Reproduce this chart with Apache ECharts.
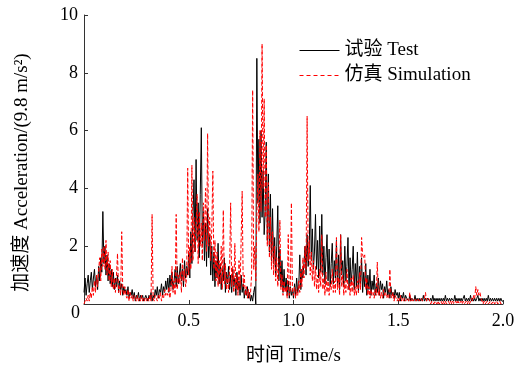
<!DOCTYPE html>
<html>
<head>
<meta charset="utf-8">
<script src="https://cdn.jsdelivr.net/npm/echarts@6/dist/echarts.min.js"></script>
<style>
  html, body { margin: 0; padding: 0; background: #fff; }
  #chart { width: 519px; height: 371px; }
</style>
</head>
<body>
<div id="chart"></div>
<script>
// Sampling step of both acceleration records (s)
const timeStep = 0.005;

// Measured acceleration, 9.8 m/s^2 units, one value every 5 ms from 0 to 2.0 s
const testAccel = [
  0.4,0.9,0.3,0.7,1.0,0.4,0.8,1.1,0.5,0.9,1.2,0.6,1.0,0.5,1.3,0.8,1.6,1.1,3.2,1.4,
  2.0,1.0,1.7,0.8,1.4,0.7,1.2,0.6,1.1,0.5,0.9,0.6,1.0,0.4,0.8,0.5,0.7,0.3,0.6,0.4,
  0.5,0.3,0.6,0.2,0.4,0.3,0.5,0.2,0.4,0.1,0.3,0.2,0.4,0.1,0.3,0.2,0.3,0.1,0.2,0.3,
  0.2,0.1,0.3,0.2,0.4,0.1,0.3,0.2,0.5,0.3,0.6,0.2,0.5,0.4,0.7,0.3,0.6,0.4,0.8,0.5,
  0.9,0.4,1.0,0.6,1.1,0.5,0.8,1.2,0.6,1.3,0.7,1.0,1.4,0.8,1.2,0.6,1.5,0.9,1.3,1.0,
  1.8,0.9,2.5,1.4,3.0,4.3,1.8,5.0,2.2,3.5,1.6,3.8,6.1,2.0,3.2,1.5,2.8,1.3,3.3,1.6,
  2.4,1.0,2.0,0.8,1.8,0.6,1.5,0.9,2.1,0.7,1.4,0.5,1.2,0.8,1.6,0.4,1.1,0.7,1.3,0.5,
  1.0,0.4,1.2,0.6,0.9,0.3,1.1,0.5,0.8,0.3,1.0,0.4,0.7,0.2,0.5,0.3,0.6,0.2,0.4,0.1,
  0.3,0.1,0.4,0.6,0.0,8.5,3.5,5.7,2.8,6.0,3.0,4.6,2.4,3.2,5.6,2.2,4.5,1.8,3.8,1.5,
  3.3,1.4,2.3,1.0,2.0,3.4,0.8,1.9,0.6,1.5,0.4,1.2,0.5,0.9,0.3,0.8,0.2,0.6,0.3,0.5,
  0.2,0.7,0.3,0.9,0.4,0.6,1.7,0.5,1.2,0.9,1.4,2.0,1.0,2.4,1.3,1.8,4.1,1.5,2.6,1.2,
  1.8,3.1,1.2,2.2,0.9,2.7,1.1,3.1,1.0,2.0,0.7,1.6,2.4,0.8,1.9,0.6,1.4,2.1,0.7,1.5,
  0.9,2.2,0.6,1.7,0.5,2.4,1.0,1.5,0.6,2.0,0.8,1.3,2.3,0.5,1.6,0.7,1.2,2.0,0.5,1.4,
  0.6,1.8,0.4,1.3,0.7,1.6,0.4,1.1,0.6,1.4,0.3,1.0,0.5,1.2,0.3,0.8,0.5,1.0,0.3,0.7,
  0.4,0.9,0.3,0.8,0.5,0.7,0.2,0.6,0.4,0.8,0.3,0.5,0.2,0.6,0.3,0.4,0.2,0.5,0.3,0.4,
  0.2,0.4,0.1,0.3,0.2,0.4,0.1,0.3,0.2,0.2,0.1,0.3,0.1,0.2,0.2,0.1,0.3,0.1,0.2,0.1,
  0.2,0.1,0.2,0.1,0.3,0.1,0.2,0.1,0.2,0.2,0.1,0.2,0.1,0.3,0.1,0.2,0.1,0.2,0.1,0.2,
  0.1,0.2,0.1,0.2,0.1,0.3,0.1,0.2,0.1,0.2,0.1,0.2,0.2,0.1,0.3,0.1,0.2,0.1,0.2,0.1,
  0.2,0.1,0.2,0.3,0.1,0.2,0.1,0.2,0.1,0.3,0.1,0.2,0.1,0.2,0.1,0.2,0.3,0.1,0.2,0.1,
  0.2,0.1,0.2,0.1,0.2,0.1,0.3,0.1,0.2,0.1,0.2,0.1,0.2,0.1,0.2,0.1,0.2,0.1,0.2,0.1,
  0.1
];

// Simulated acceleration on the same time base
const simAccel = [
  0.0,0.1,0.2,0.1,0.3,0.1,0.4,0.2,0.6,0.3,0.8,0.4,1.0,0.6,1.2,1.6,0.8,1.9,1.3,2.0,
  1.2,2.2,1.0,1.8,0.8,1.5,0.6,1.2,0.5,0.9,0.4,1.0,1.75,0.4,0.6,0.3,2.5,0.5,0.3,0.6,
  0.3,0.2,0.5,0.1,0.4,0.2,0.3,0.1,0.3,0.2,0.1,0.3,0.1,0.2,0.1,0.3,0.1,0.2,0.1,0.2,
  0.1,0.2,0.1,0.3,0.1,3.1,0.2,0.1,0.3,0.2,0.1,0.3,0.2,0.4,0.1,0.3,0.2,0.5,0.3,0.4,
  0.3,0.6,0.2,0.5,1.3,0.4,0.8,0.3,3.1,0.5,1.0,0.7,1.1,0.4,1.6,0.8,1.2,0.6,0.9,4.7,
  1.0,2.0,1.2,4.8,1.5,3.0,1.8,2.6,3.8,1.4,3.2,2.0,2.8,1.5,3.5,2.2,4.0,1.8,5.9,2.0,
  3.0,1.5,2.6,4.6,1.2,2.2,0.8,1.8,0.6,1.5,0.7,2.0,0.5,3.25,0.7,1.4,0.5,1.0,0.4,1.2,
  3.5,0.6,1.3,0.4,2.1,0.5,1.0,0.3,1.5,0.5,2.2,3.9,0.6,1.0,0.3,0.6,0.2,0.5,0.2,0.4,
  1.0,7.4,1.2,2.0,0.8,3.0,4.5,2.5,6.0,3.2,9.0,4.0,7.1,3.0,5.5,2.0,4.2,1.6,3.0,1.2,
  2.5,1.0,2.0,0.8,1.6,0.6,1.3,2.9,0.5,1.0,0.3,0.8,0.4,0.6,0.2,2.4,0.3,0.5,3.5,0.4,
  0.3,0.6,0.2,0.5,0.3,0.8,0.4,1.2,0.6,1.6,0.9,2.0,1.2,6.5,1.5,2.2,1.0,1.8,0.8,1.5,
  0.6,1.3,0.5,1.0,0.4,1.2,0.6,2.4,0.5,0.9,0.3,1.1,0.4,0.8,0.3,0.7,0.5,1.2,0.4,0.8,
  0.4,2.3,0.5,0.9,0.3,2.4,0.6,1.0,0.3,0.8,0.4,1.2,0.5,0.7,0.3,0.9,0.4,1.0,0.3,0.6,
  0.3,0.8,0.4,1.1,0.5,2.3,1.7,1.6,1.7,0.5,0.9,0.3,0.6,0.2,0.5,0.3,0.4,0.2,0.5,0.3,
  1.45,0.3,0.5,0.2,0.4,0.2,0.5,0.3,0.4,0.2,0.3,0.2,1.2,0.3,0.2,0.4,0.1,0.3,0.2,0.1,
  0.2,0.1,0.3,0.1,0.2,0.1,0.2,0.1,0.1,0.2,0.1,0.4,0.1,0.2,0.1,0.1,0.2,0.1,0.1,0.2,
  0.1,0.1,0.2,0.1,0.1,0.2,0.4,0.1,0.1,0.2,0.1,0.0,0.1,0.1,0.0,0.1,0.1,0.0,0.1,0.0,
  0.0,0.1,0.0,0.1,0.0,0.1,0.0,0.0,0.1,0.0,0.1,0.0,0.1,0.0,0.0,0.1,0.0,0.1,0.0,0.0,
  0.1,0.0,0.1,0.0,0.0,0.1,0.0,0.1,0.0,0.1,0.2,0.1,0.3,0.2,0.6,0.3,0.5,0.3,0.4,0.2,
  0.1,0.0,0.1,0.0,0.0,0.1,0.0,0.0,0.1,0.0,0.0,0.1,0.0,0.0,0.1,0.0,0.0,0.1,0.0,0.0,
  0.0
];

// Axis tick labels
const xTickLabels = ['0', '0.5', '1.0', '1.5', '2.0'];
const yTickLabels = ['0', '2', '4', '6', '8', '10'];

const seriesNames = ['试验 Test', '仿真 Simulation'];
const seriesColors = ['#000000', '#ff0000'];

const FONT = '"Liberation Serif", "Times New Roman", "Noto Sans CJK SC", serif';

function toPairs(values) {
  return values.map((v, i) => [+(i * timeStep).toFixed(3), v]);
}

const chart = echarts.init(document.getElementById('chart'), null, { renderer: 'canvas' });

const axisCommon = {
  axisLine: { show: true, lineStyle: { color: '#333', width: 1 } },
  axisTick: { show: true, inside: true, length: 4, lineStyle: { color: '#333' } },
  splitLine: { show: false },
  axisLabel: { color: '#000', fontFamily: FONT, fontSize: 18 },
  nameTextStyle: { color: '#000', fontFamily: FONT, fontSize: 19 }
};

chart.setOption({
  animation: false,
  backgroundColor: '#fff',
  color: seriesColors,
  grid: { left: 84, right: 16, top: 15, bottom: 67, containLabel: false },
  legend: {
    orient: 'vertical',
    left: 294,
    top: 36,
    itemWidth: 40,
    itemHeight: 14,
    itemGap: 6,
    itemStyle: { opacity: 0, borderWidth: 0 },
    textStyle: { color: '#000', fontFamily: FONT, fontSize: 19 },
    data: [
      { name: seriesNames[0], lineStyle: { color: seriesColors[0], width: 1, type: 'solid' } },
      { name: seriesNames[1], lineStyle: { color: seriesColors[1], width: 1, type: [4, 3] } }
    ]
  },
  xAxis: Object.assign({}, axisCommon, {
    type: 'value',
    min: 0,
    max: 2,
    interval: 0.5,
    name: '时间 Time/s',
    nameLocation: 'middle',
    nameGap: 43,
    axisLabel: Object.assign({}, axisCommon.axisLabel, {
      margin: 8,
      formatter: (v) => {
        const idx = Math.round(v / 0.5);
        return idx === 0 ? '' : xTickLabels[idx];
      }
    })
  }),
  yAxis: Object.assign({}, axisCommon, {
    type: 'value',
    min: 0,
    max: 10,
    interval: 2,
    name: '加速度 Acceleration/(9.8 m/s²)',
    nameLocation: 'middle',
    nameGap: 52,
    nameTextStyle: Object.assign({}, axisCommon.nameTextStyle, { padding: [0, 26, 0, 0] }),
    axisLabel: Object.assign({}, axisCommon.axisLabel, {
      margin: 6,
      formatter: (v) => {
        const idx = Math.round(v / 2);
        return idx === 0 ? '' : yTickLabels[idx];
      }
    })
  }),
  graphic: [{
    type: 'text',
    left: 71,
    top: 304,
    style: { text: yTickLabels[0], fill: '#000', font: '18px ' + FONT }
  }],
  series: [
    {
      name: seriesNames[0],
      type: 'line',
      data: toPairs(testAccel),
      symbol: 'none',
      sampling: null,
      lineStyle: { color: seriesColors[0], width: 1 },
      itemStyle: { color: seriesColors[0] },
      z: 2
    },
    {
      name: seriesNames[1],
      type: 'line',
      data: toPairs(simAccel),
      symbol: 'none',
      sampling: null,
      lineStyle: { color: seriesColors[1], width: 1, type: [4, 2] },
      itemStyle: { color: seriesColors[1] },
      z: 3
    }
  ]
});
</script>
</body>
</html>
